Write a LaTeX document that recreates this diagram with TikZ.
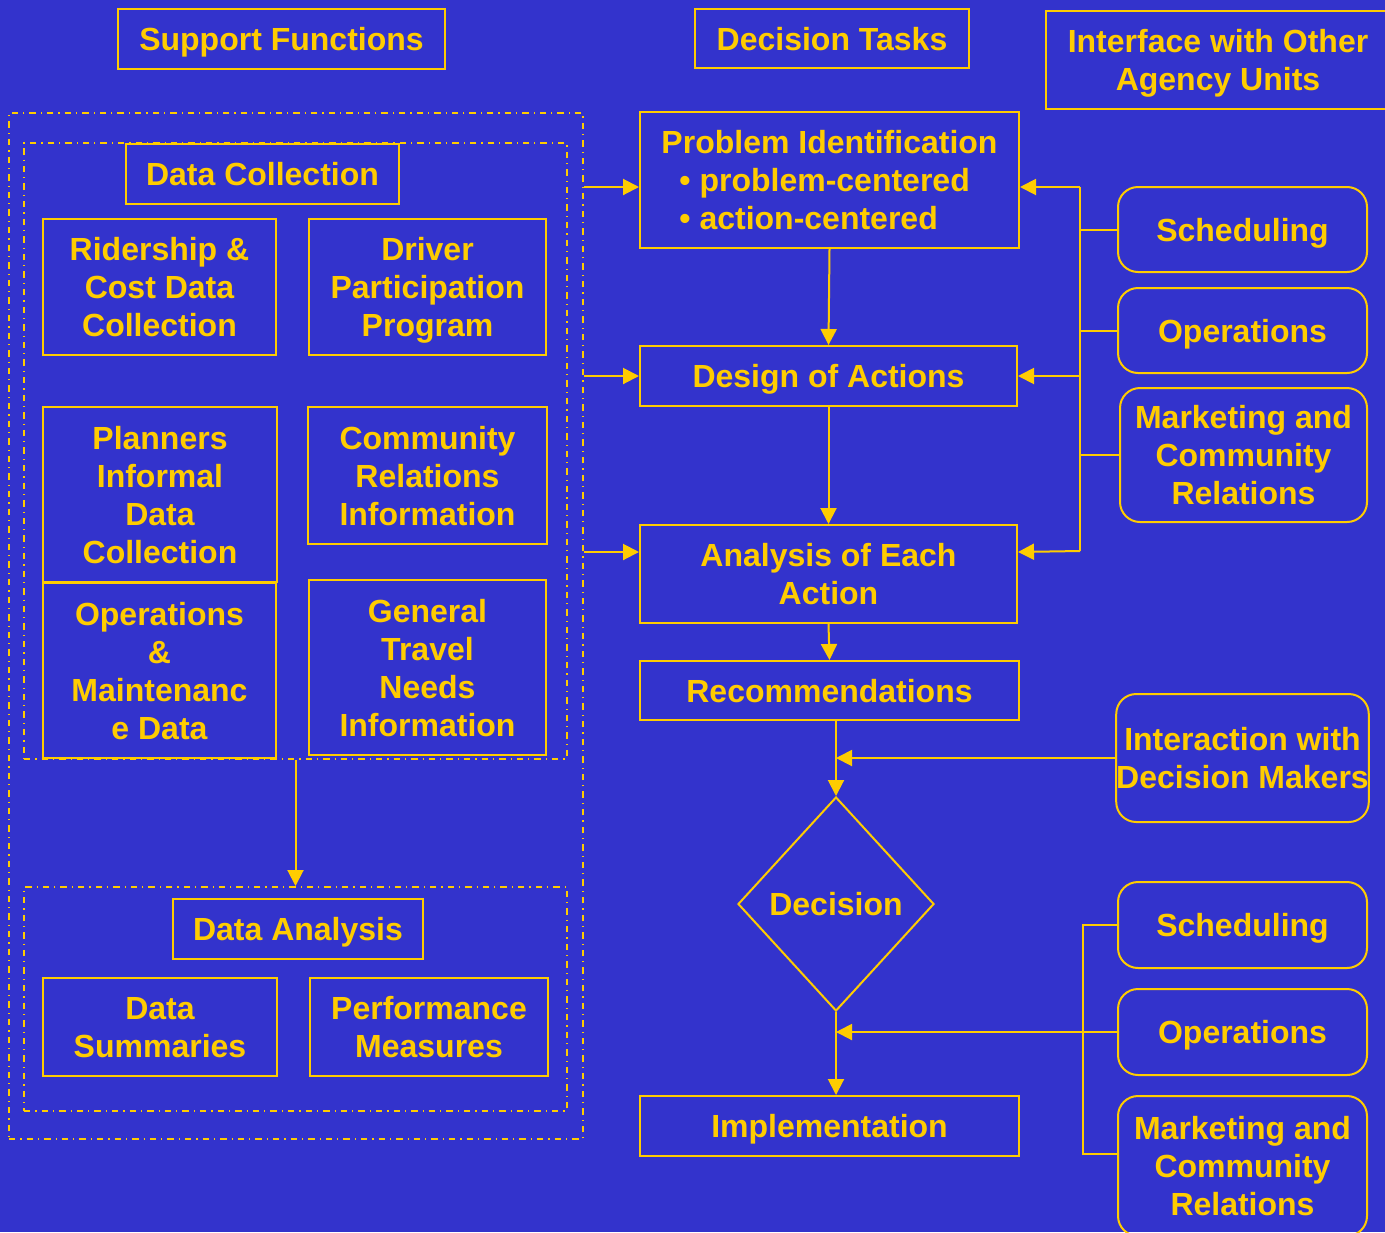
\documentclass[tikz,border=0pt]{standalone}
\usepackage{fontspec}
\setmainfont{Liberation Sans}
\usetikzlibrary{arrows.meta,shapes.geometric}
\definecolor{bgblue}{RGB}{51,51,204}
\definecolor{gold}{RGB}{255,204,0}
\tikzset{
  box/.style={draw=gold, line width=1pt, text=gold, font=\bfseries\fontsize{16}{19}\selectfont, align=center, inner sep=0pt, text depth=0pt},
  rbox/.style={box, rounded corners=10pt},
  link/.style={draw=gold, line width=1pt},
  arr/.style={link, -{Triangle[length=8pt,width=8pt]}},
  dashdot/.style={draw=gold, line width=1pt, dash pattern=on 3.2pt off 2.5pt on 0.6pt off 2.5pt, inner sep=0pt},
}

\begin{document}
\begin{tikzpicture}[x=0.5pt, y=-0.5pt]
    \fill[bgblue] (0,0) rectangle (1385,1232);
    \useasboundingbox (0,0) rectangle (1385,1232);

    % column heads
    \node[box, minimum width=163.5pt, minimum height=30pt] (sf) at (281.5,39) {Support Functions};
    \node[box, minimum width=137pt, minimum height=29.5pt] (dt) at (832,38.5) {Decision Tasks};
    \node[box, minimum width=172pt, minimum height=49pt] (iface) at (1218,60) {Interface with Other\\Agency Units};

    % support functions
    \node[dashdot, minimum width=287pt, minimum height=513pt] (support) at (296,626) {};
    \node[dashdot, minimum width=271.5pt, minimum height=308pt] (collect) at (295.5,451) {};
    \node[dashdot, minimum width=271.5pt, minimum height=112pt] (analysis) at (295.5,999) {};

    \node[box, minimum width=136.5pt, minimum height=30pt] (dc) at (262.5,174) {Data Collection};
    \node[box, minimum width=116.5pt, minimum height=68pt] (rid) at (159.5,287) {Ridership \&\\Cost Data\\Collection};
    \node[box, minimum width=118.5pt, minimum height=68pt] (drv) at (427.5,287) {Driver\\Participation\\Program};
    \node[box, minimum width=117pt, minimum height=87.5pt] (pln) at (160,494.5) {Planners\\Informal\\Data\\Collection};
    \node[box, minimum width=119.5pt, minimum height=68.5pt] (com) at (427.5,475.5) {Community\\Relations\\Information};
    \node[box, minimum width=116.5pt, minimum height=87.5pt] (ops) at (159.5,670.5) {Operations\\\&\\Maintenanc\\e Data};
    \node[box, minimum width=118.5pt, minimum height=87.5pt] (gtn) at (427.5,667.5) {General\\Travel\\Needs\\Information};

    \node[box, minimum width=125pt, minimum height=30pt] (da) at (298,929) {Data Analysis};
    \node[box, minimum width=117pt, minimum height=49pt] (ds) at (160,1027) {Data\\Summaries};
    \node[box, minimum width=119pt, minimum height=49pt] (pm) at (429,1027) {Performance\\Measures};

    \draw[arr] (collect.south) -- (analysis.north);

    % decision tasks
    \node[box, minimum width=189.5pt, minimum height=68pt, align=left] (pid) at (829.5,180)
        {Problem Identification\\\hspace*{9pt}\textbullet\ problem-centered\\\hspace*{9pt}\textbullet\ action-centered};
    \node[box, minimum width=188.5pt, minimum height=30pt] (doa) at (828.5,376) {Design of Actions};
    \node[box, minimum width=188.5pt, minimum height=49pt] (aea) at (828.5,574) {Analysis of Each\\Action};
    \node[box, minimum width=189.5pt, minimum height=29.5pt] (rec) at (829.5,690.5) {Recommendations};
    \node[box, diamond, minimum width=98pt, minimum height=107pt] (dec) at (836,904) {Decision};
    \node[box, minimum width=189.5pt, minimum height=30pt] (impl) at (829.5,1126) {Implementation};

    \coordinate (p1) at ([yshift=-3.5pt]pid.west);
    \coordinate (p2) at ([yshift=-3.5pt]pid.east);
    \coordinate (a1) at ([yshift=11pt]aea.west);
    \coordinate (a2) at ([yshift=11pt]aea.east);

    \draw[arr] (p1 -| support.east) -- (p1);
    \draw[arr] (doa.west -| support.east) -- (doa.west);
    \draw[arr] (a1 -| support.east) -- (a1);

    \draw[arr] (pid.south) -- (doa.north);
    \draw[arr] (doa.south) -- (aea.north);
    \draw[arr] (aea.south) -- (rec.north);
    \draw[arr] (rec.south -| dec.north) -- (dec.north);
    \draw[arr] (dec.south) -- (dec.south |- impl.north);

    % agency units
    \node[rbox, minimum width=124.5pt, minimum height=42.5pt] (sch1) at (1242.5,229.5) {Scheduling};
    \node[rbox, minimum width=124.5pt, minimum height=42.5pt] (op1) at (1242.5,330.5) {Operations};
    \node[rbox, minimum width=123.5pt, minimum height=67pt] (mkt1) at (1243.5,455) {Marketing and\\Community\\Relations};
    \node[rbox, minimum width=124.5pt, minimum height=64pt] (idm) at (1242.5,758) {Interaction with\\Decision Makers};
    \node[rbox, minimum width=124.5pt, minimum height=43pt] (sch2) at (1242.5,925) {Scheduling};
    \node[rbox, minimum width=124.5pt, minimum height=43pt] (op2) at (1242.5,1032) {Operations};
    \node[rbox, minimum width=124.5pt, minimum height=70pt] (mkt2) at (1242.5,1166) {Marketing and\\Community\\Relations};

    \coordinate (bt) at (1080,187);
    \coordinate (bb) at (1080,551);
    \draw[link] (bt) -- (bb);
    \draw[arr] (bt) -- (p2);
    \draw[arr] (doa.east -| bt) -- (doa.east);
    \draw[arr] (bb) -- (a2);
    \draw[link] (sch1.west) -- (sch1.west -| bt);
    \draw[link] (op1.west) -- (op1.west -| bt);
    \draw[link] (mkt1.west) -- (mkt1.west -| bt);

    \draw[arr] (idm.west) -- (idm.west -| dec.north);

    \coordinate (ct) at (1083,925);
    \coordinate (cb) at (1083,1154);
    \draw[link] (sch2.west) -- (ct) -- (cb) -- (cb -| mkt2.west);
    \draw[arr] (op2.west) -- (op2.west -| dec.south);

\end{tikzpicture}
\end{document}
